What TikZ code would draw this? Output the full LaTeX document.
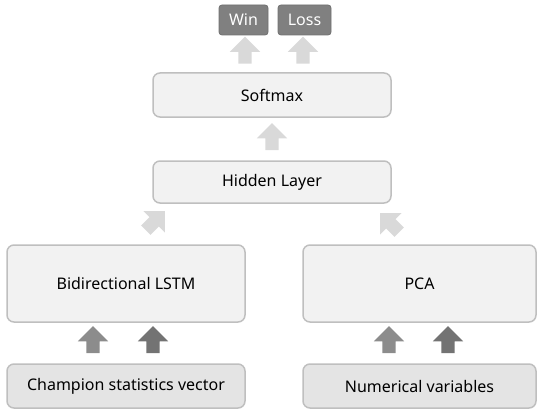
\documentclass[tikz,border=0pt]{standalone}
\usepackage{fontspec}
\setmainfont{Noto Sans}
\usetikzlibrary{shapes.arrows}
\definecolor{boxfill}{HTML}{F2F2F2}
\definecolor{boxline}{HTML}{BFBFBF}
\definecolor{infill}{HTML}{E4E4E4}
\definecolor{outfill}{HTML}{808080}
\definecolor{outline}{HTML}{707070}
\definecolor{lightarr}{HTML}{D9D9D9}
\definecolor{midarr}{HTML}{8C8C8C}
\definecolor{darkarr}{HTML}{737373}
\tikzset{layer/.style = {draw=boxline, fill=boxfill, line width=1.5pt, rounded corners=7pt,
                         inner sep=0, font=\fontsize{16}{19}\selectfont}}
\tikzset{input/.style = {layer, fill=infill, minimum width=238, minimum height=44}}
\tikzset{output/.style = {draw=outline, fill=outfill, line width=0.8pt, rounded corners=3pt,
                          inner sep=0, text=white, minimum height=30,
                          font=\fontsize{16}{19}\selectfont}}
\tikzset{fat/.style = {single arrow, fill=lightarr, inner xsep=0, inner ysep=6.5,
                       minimum height=27, single arrow head extend=8.5,
                       single arrow tip angle=90, single arrow head indent=0}}

\begin{document}
\begin{tikzpicture}[x=1pt, y=-1pt]
    \useasboundingbox (0, 0) rectangle (537, 409);
    % outputs
    \node [output, minimum width=49] (win) at (243.5, 20) {Win};
    \node [output, minimum width=53] (loss) at (304.5, 20) {Loss};
    % layers
    \node [layer, minimum width=238, minimum height=44] (softmax) at (272, 95) {Softmax};
    \node [layer, minimum width=238, minimum height=42] (hidden) at (272, 182) {Hidden Layer};
    \node [layer, minimum width=238, minimum height=77] (lstm) at (126, 283.5) {Bidirectional LSTM};
    \node [layer, minimum width=233, minimum height=77] (pca) at (419.5, 283.5) {PCA};
    % inputs
    \node [input] (champ) at (126, 386) {Champion statistics vector};
    \node [input, minimum width=233] (numvar) at (419.5, 386) {Numerical variables};
    % arrows
    \node [fat, rotate=90] (toWin) at (245, 53.5) {};
    \node [fat, rotate=90] (toLoss) at (303, 53.5) {};
    \node [fat, rotate=90] (toSoftmax) at (272, 140) {};
    \node [fat, rotate=45] (lstmUp) at (153, 223) {};
    \node [fat, rotate=135] (pcaUp) at (392, 225) {};
    \node [fat, fill=midarr, rotate=90] (champA) at (93, 343) {};
    \node [fat, fill=darkarr, rotate=90] (champB) at (153, 343) {};
    \node [fat, fill=midarr, rotate=90] (numA) at (389, 343) {};
    \node [fat, fill=darkarr, rotate=90] (numB) at (448, 343) {};
\end{tikzpicture}
\end{document}
